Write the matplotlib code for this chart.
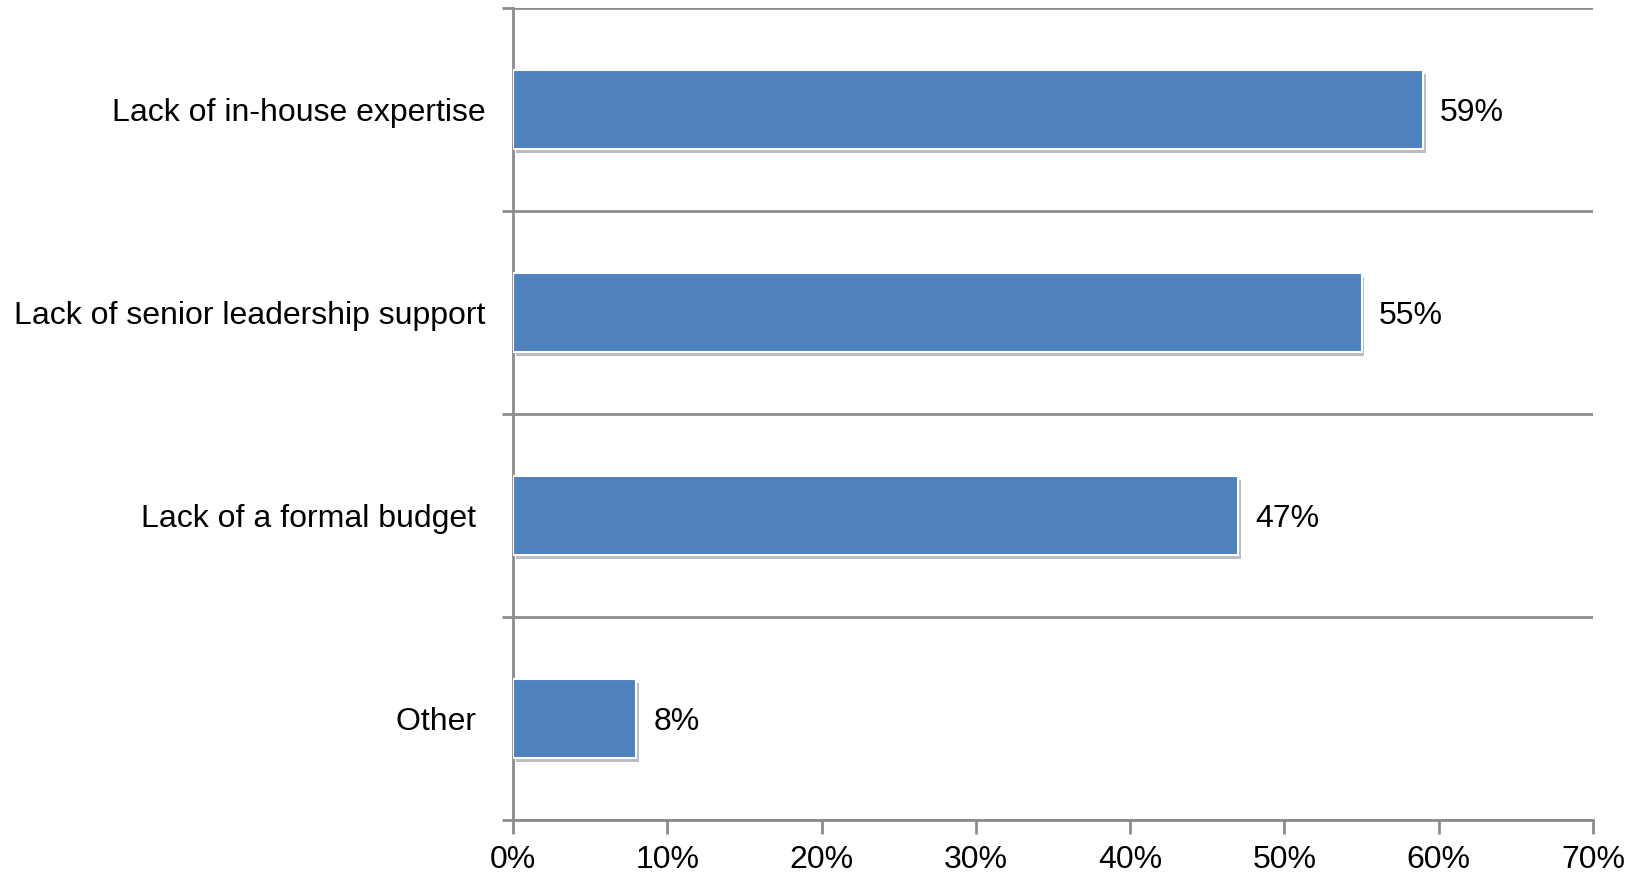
import matplotlib.pyplot as plt
import matplotlib.patheffects as pe
from matplotlib.ticker import FuncFormatter, FixedLocator

plt.rcParams['font.family'] = ['Liberation Sans', 'DejaVu Sans']

categories = ['Lack of in-house expertise', 'Lack of senior leadership support',
              'Lack of a formal budget ', 'Other ']
values = [59, 55, 47, 8]

fig = plt.figure(figsize=(16.38, 8.74), dpi=100)
ax = fig.add_axes([0.3132, 0.0618, 0.6593, 0.929])

pos = list(range(len(categories)))[::-1]
bars = ax.barh(pos, values, height=0.39, color='#4F81BD', edgecolor='white',
               linewidth=1.5, zorder=3)
for b in bars:
    b.set_path_effects([pe.SimplePatchShadow(offset=(2, -3), alpha=0.3),
                        pe.Normal()])

# value labels just past the end of each bar
for p, v in zip(pos, values):
    ax.text(v + 1.1, p, f'{v}%', va='center_baseline', ha='left', fontsize=23)

ax.set_xlim(0, 70)
ax.set_ylim(-0.5, len(categories) - 0.5)

ax.set_yticks(pos)
ax.set_yticklabels(categories, fontsize=23)
ax.tick_params(axis='y', which='major', length=0, pad=20)
# separators between the categories
ax.yaxis.set_minor_locator(FixedLocator([-0.5, 0.5, 1.5, 2.5, 3.5]))
ax.tick_params(axis='y', which='minor', length=8, width=2, color='#8c8c8c')
ax.grid(axis='y', which='minor', color='#8c8c8c', linewidth=2, zorder=1)

ax.set_xticks(range(0, 71, 10))
ax.xaxis.set_major_formatter(FuncFormatter(lambda x, _: f'{int(x)}%'))
ax.tick_params(axis='x', length=10, width=2, color='#8c8c8c', labelsize=23, pad=8)

for side in ['top', 'right']:
    ax.spines[side].set_visible(False)
for side in ['left', 'bottom']:
    ax.spines[side].set_color('#8c8c8c')
    ax.spines[side].set_linewidth(2)

fig.savefig('out.png', dpi=100)
